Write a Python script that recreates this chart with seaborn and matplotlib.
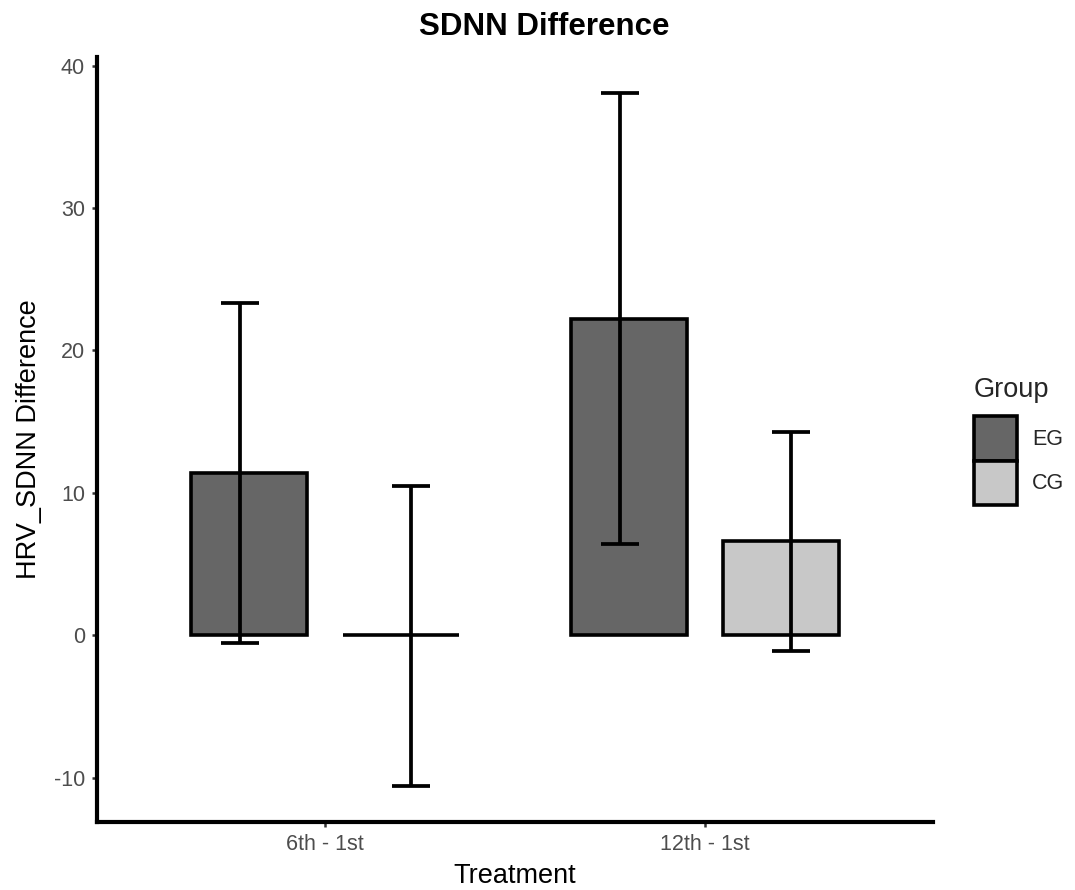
import matplotlib
matplotlib.use("Agg")
import matplotlib.pyplot as plt
from matplotlib.patches import Patch
import seaborn as sns
import pandas as pd
import numpy as np

# ---- data ----
treatments = ["6th - 1st", "12th - 1st"]
groups = ["EG", "CG"]
eg_mean = [11.4, 22.2]
cg_mean = [0.0, 6.6]
eg_low = [-0.5, 6.4]
eg_high = [23.3, 38.1]
cg_low = [-10.6, -1.1]
cg_high = [10.5, 14.3]
colors = {"EG": "#666666", "CG": "#C8C8C8"}

df = pd.DataFrame({
    "Treatment": treatments * 2,
    "Group": ["EG"] * 2 + ["CG"] * 2,
    "Value": eg_mean + cg_mean,
    "Low": eg_low + cg_low,
    "High": eg_high + cg_high,
})

sns.set_theme(style="white")
plt.rcParams["font.family"] = ["Liberation Sans", "DejaVu Sans"]
plt.rcParams["axes.unicode_minus"] = False

fig = plt.figure(figsize=(10.75, 8.9), dpi=100)
ax = fig.add_axes([97 / 1075, 1 - 822 / 890, (933 - 97) / 1075, (822 - 57) / 890])

sns.barplot(data=df, x="Treatment", y="Value", hue="Group", order=treatments,
            hue_order=groups, palette=colors, saturation=1, gap=0.2375,
            edgecolor="black", linewidth=2.6, errorbar=None, legend=False, ax=ax,
            zorder=2)

# error bars (dodged slightly wider than bars)
offsets = {"EG": -0.225, "CG": 0.225}
for g in groups:
    sub = df[df["Group"] == g].set_index("Treatment").loc[treatments]
    xs = np.arange(len(treatments)) + offsets[g]
    y = sub["Value"].values
    yerr = np.vstack([y - sub["Low"].values, sub["High"].values - y])
    ax.errorbar(xs, y, yerr=yerr, fmt="none", ecolor="black", elinewidth=2.7,
                capsize=14, capthick=2.7, zorder=3)

ax.set_xlim(-0.6, 1.6)
ax.set_ylim(-13.1, 40.6)
ax.set_yticks([-10, 0, 10, 20, 30, 40])

for s in ["top", "right"]:
    ax.spines[s].set_visible(False)
for s in ["left", "bottom"]:
    ax.spines[s].set_linewidth(3)
    ax.spines[s].set_color("black")

ax.tick_params(axis="both", which="major", direction="out", length=3.6, width=1.8,
               color="#333333", labelcolor="#4D4D4D", labelsize=15.5, pad=5,
               left=True, bottom=True)

ax.set_xlabel("Treatment", fontsize=19.5, color="black")
ax.set_ylabel("HRV_SDNN Difference", fontsize=19.5, color="black")
ax.xaxis.set_label_coords(0.5, -0.053)
ax.yaxis.set_label_coords(-0.066, 0.5)

fig.text(544 / 1075, 1 - 27 / 890, "SDNN Difference", ha="center", va="center",
         fontsize=22.5, fontweight="bold", color="black")

handles = [Patch(facecolor=colors[g], edgecolor="black", linewidth=2.6, label=g)
           for g in groups]
leg = fig.legend(handles=handles, title="Group", loc="upper left",
                 bbox_to_anchor=(974 / 1075, 1 - 377 / 890), frameon=False,
                 fontsize=15.5, title_fontsize=19.5, handlelength=2.0,
                 handleheight=2.78, labelspacing=0, handletextpad=0.7,
                 borderpad=0, borderaxespad=0, alignment="left")
leg._legend_box.sep = 9.6

fig.savefig("out.png", dpi=100)
